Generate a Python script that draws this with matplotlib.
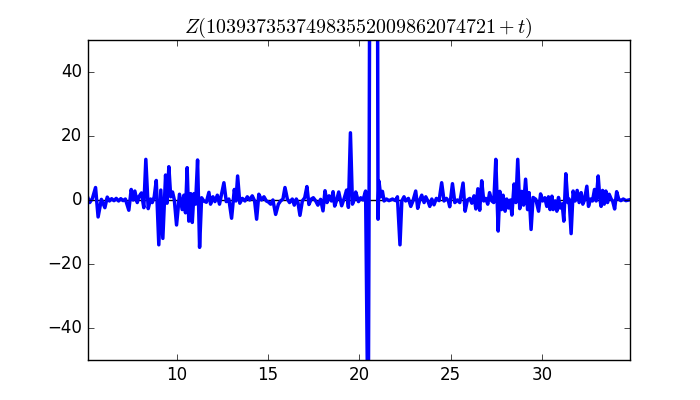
import matplotlib
matplotlib.use("Agg")
import matplotlib.pyplot as plt

plt.style.use('classic')

# values (t, Z)
t = [5.13, 5.25, 5.40, 5.57, 5.71, 5.89, 6.08, 6.21, 6.33, 6.45, 6.58, 6.70, 6.83, 6.95,
     7.08, 7.20, 7.39, 7.52, 7.63, 7.72, 7.85, 7.94, 8.08, 8.21, 8.32, 8.45, 8.58, 8.67,
     8.78, 8.89, 9.03, 9.14, 9.25, 9.40, 9.48, 9.58, 9.68, 9.78, 9.88, 10.00, 10.16, 10.31,
     10.40, 10.49, 10.58, 10.67, 10.77, 10.86, 10.95, 11.04, 11.15, 11.26, 11.37, 11.49,
     11.63, 11.77, 11.86, 11.99, 12.10, 12.23, 12.35, 12.45, 12.59, 12.72, 12.86, 13.01,
     13.16, 13.25, 13.34, 13.46, 13.60, 13.74, 13.87, 14.00, 14.14, 14.27, 14.38, 14.50,
     14.65, 14.78, 14.91, 15.02, 15.15, 15.27, 15.42, 15.57, 15.69, 15.82, 15.93, 16.06,
     16.18, 16.33, 16.44, 16.55, 16.64, 16.75, 16.88, 17.01, 17.13, 17.24, 17.37, 17.48,
     17.61, 17.73, 17.88, 18.01, 18.12, 18.23, 18.34, 18.47, 18.56, 18.65, 18.76, 18.87,
     19.03, 19.18, 19.30, 19.40, 19.51, 19.62, 19.73, 19.80, 19.95, 20.07, 20.20, 20.34,
     20.48, 20.53, 20.60, 20.80, 20.96, 21.02, 21.07, 21.17, 21.26, 21.35, 21.48, 21.62,
     21.81, 21.99, 22.08, 22.22, 22.32, 22.44, 22.53, 22.68, 22.81, 22.93, 23.08, 23.19,
     23.30, 23.41, 23.54, 23.63, 23.76, 23.85, 23.96, 24.08, 24.21, 24.36, 24.50, 24.63,
     24.76, 24.87, 24.94, 25.09, 25.22, 25.36, 25.49, 25.67, 25.78, 25.91, 26.04, 26.15,
     26.27, 26.37, 26.48, 26.58, 26.69, 26.80, 26.91, 27.02, 27.12, 27.24, 27.35, 27.46,
     27.59, 27.68, 27.77, 27.86, 27.97, 28.06, 28.16, 28.26, 28.34, 28.46, 28.56, 28.66,
     28.77, 28.88, 28.98, 29.09, 29.20, 29.28, 29.39, 29.50, 29.65, 29.80, 29.91, 30.02,
     30.14, 30.25, 30.34, 30.43, 30.53, 30.60, 30.71, 30.80, 30.89, 30.98, 31.09, 31.18,
     31.29, 31.40, 31.47, 31.58, 31.69, 31.80, 31.91, 32.02, 32.13, 32.22, 32.31, 32.44,
     32.53, 32.64, 32.75, 32.86, 32.95, 33.06, 33.15, 33.22, 33.30, 33.39, 33.48, 33.57,
     33.66, 33.77, 33.85, 33.96, 34.07, 34.18, 34.30, 34.43, 34.58, 34.80]
z = [1.0, -0.8, 0.5, 3.9, -5.3, 0.2, -2.4, 0.9, -0.3, 0.4, -0.2, 0.5, -0.3, 0.4,
     -0.2, 0.3, -3.2, 3.3, 0.0, 2.8, -0.8, 1.0, 2.2, -2.4, 12.7, -2.7, 0.3, -0.8,
     1.0, 6.1, -14.0, 3.1, -12.0, 7.8, -1.0, 10.4, 1.0, 2.5, 0.0, -7.8, 1.8, -3.0,
     1.5, -4.0, 10.1, -6.6, 2.0, -7.0, 2.0, -1.3, 12.5, -14.8, 0.7, -0.3,
     -0.7, 2.4, -1.3, 1.0, -0.5, 1.5, -1.3, 1.5, 5.4, -0.5, 0.3, -5.7,
     3.3, -0.3, 7.5, -1.0, 0.5, -0.3, 1.0, 0.0, 1.3, -0.3, -6.0, 1.8,
     0.0, 1.0, -0.3, -0.6, -1.3, 0.0, -4.5, -1.3, -0.3, 0.3, 3.9, 0.3,
     -0.8, 0.3, -1.6, 0.3, -0.8, -4.8, -0.3, 0.7, 4.2, -1.4, 0.3, 0.7,
     -0.3, -1.6, 0.2, -3.4, 2.9, -0.8, 1.3, -0.3, 2.6, -1.9, 0.0, 2.5,
     -1.8, 0.7, 3.1, -2.3, 21.0, -1.3, 0.3, 2.5, -0.5, 0.7, 0.0, 2.8,
     -80.0, 0.0, 150.0, 250.0, 150.0, -6.0, 5.9, 1.0, 2.7, -0.3, 0.3, -0.2,
     0.3, -0.2, 1.0, -14.0, -0.3, 1.0, -0.3, 0.5, -2.0, -0.3, 2.8, -2.6,
     0.0, 1.5, -0.8, 1.0, -0.5, -2.0, 0.3, -1.5, 0.5, -0.2, 5.4, -0.3,
     0.5, -0.3, -2.1, 5.1, -0.8, 0.0, -0.8, 5.3, -3.5, 0.0, 0.5, -1.0,
     1.3, -2.8, 3.5, -3.2, 6.0, -0.3, 0.5, -1.3, 2.3, -0.3, -0.8, 12.7,
     -9.7, 2.7, -3.0, 1.5, -3.5, 0.3, -2.5, 0.0, -4.7, 5.0, -0.8, 12.7,
     -2.7, 2.7, -1.6, 6.5, -3.0, 2.3, -9.2, 0.8, 0.2, -3.5, 1.9, -0.3,
     0.7, -2.0, 1.0, -3.0, 1.2, -3.0, -0.3, -3.5, 0.8, -2.5, -1.2, -6.6,
     8.2, -0.8, 0.3, -10.5, 2.8, -0.3, 3.0, -0.8, 2.3, -1.3, 0.0, 4.3,
     -2.0, 0.3, -0.3, 3.3, -0.3, 7.5, 0.5, -2.0, 3.0, -1.3, 2.8, -0.8,
     1.8, 0.3, -0.3, -2.8, 2.6, 0.3, -0.2, 0.3, -0.2, 0.1]

fig = plt.figure(figsize=(7, 4), dpi=100)
ax = fig.add_subplot(111)
ax.axhline(0, color='black', lw=1, zorder=1)
ax.plot(t, z, color='blue', lw=2.5, zorder=2, solid_joinstyle='round')
ax.set_xlim(5.13, 34.8)
ax.set_ylim(-50, 50)
ax.set_xticks([10, 15, 20, 25, 30])
ax.set_yticks([-40, -20, 0, 20, 40])
ax.set_title(r'$Z(10393735374983552009862074721+t)$')

plt.savefig("out.png")
